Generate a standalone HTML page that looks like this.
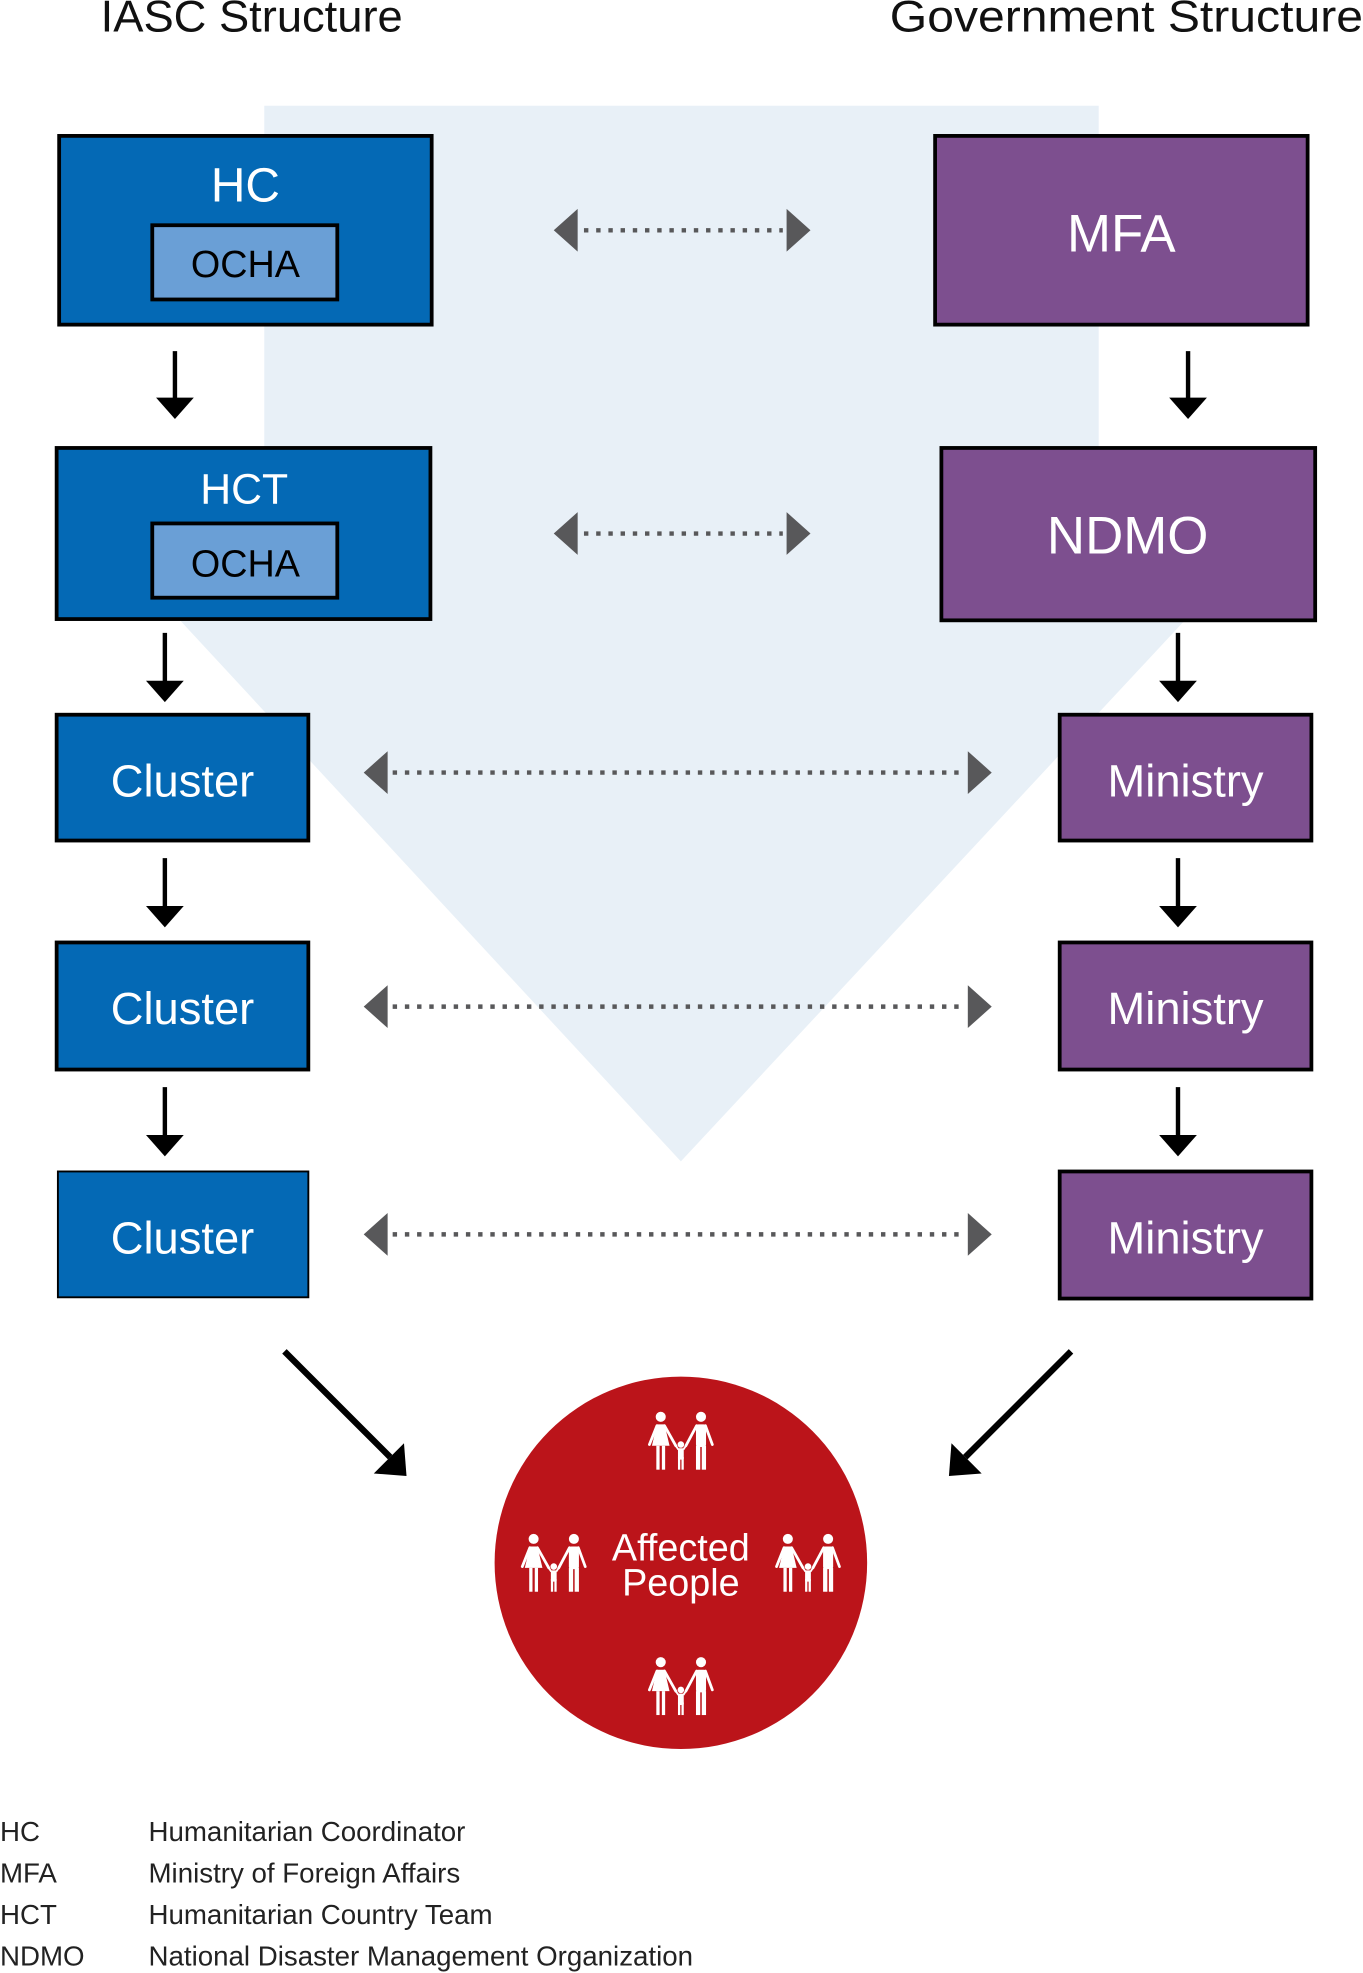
<!DOCTYPE html>
<html><head><meta charset="utf-8"><style>
html,body{margin:0;padding:0;background:#fff}
svg{display:block}
text{font-family:"Liberation Sans",sans-serif}
</style></head><body>
<svg width="1363" height="1973" viewBox="0 0 1083 1568" preserveAspectRatio="none" xmlns="http://www.w3.org/2000/svg">
<defs>
<g id="fam" fill="#fff" stroke="none">
  <circle cx="-16" cy="-19" r="4"/>
  <polygon points="-19,-13 -13,-13 -9,4 -23,4"/>
  <rect x="-19.5" y="4" width="2.6" height="19"/>
  <rect x="-15.1" y="4" width="2.6" height="19"/>
  <line x1="-19" y1="-12" x2="-25" y2="3" stroke="#fff" stroke-width="2.2" stroke-linecap="round"/>
  <line x1="-13" y1="-12" x2="-4" y2="4" stroke="#fff" stroke-width="2.2" stroke-linecap="round"/>
  <circle cx="16" cy="-19" r="4"/>
  <rect x="12" y="-13" width="8" height="18" rx="2"/>
  <rect x="12" y="4" width="3.4" height="19"/>
  <rect x="16.6" y="4" width="3.4" height="19"/>
  <line x1="12.5" y1="-12" x2="4" y2="4" stroke="#fff" stroke-width="2.2" stroke-linecap="round"/>
  <line x1="19.5" y1="-12" x2="25" y2="3" stroke="#fff" stroke-width="2.2" stroke-linecap="round"/>
  <circle cx="0" cy="3" r="2.6"/>
  <rect x="-2.3" y="6" width="4.6" height="9" rx="1"/>
  <rect x="-2.3" y="13" width="1.8" height="10"/>
  <rect x="0.5" y="13" width="1.8" height="10"/>
  <line x1="-2" y1="7" x2="-4" y2="4" stroke="#fff" stroke-width="1.5"/>
  <line x1="2" y1="7" x2="4" y2="4" stroke="#fff" stroke-width="1.5"/>
</g>
</defs>

<polygon points="210,84 873,84 873,400 1028,400 541,923 57,400 210,400" fill="#e8f0f7"/>

<text x="80" y="25" font-size="35" textLength="240" lengthAdjust="spacingAndGlyphs" fill="#111">IASC Structure</text>
<text x="707" y="25" font-size="35" textLength="376" lengthAdjust="spacingAndGlyphs" fill="#111">Government Structure</text>

<g stroke="#000" stroke-width="3">
<rect x="47" y="108" width="296" height="150" fill="#0469b5"/>
<rect x="121" y="179" width="147" height="59" fill="#6a9fd6"/>
<rect x="45" y="356" width="297" height="136" fill="#0469b5"/>
<rect x="121" y="416" width="147" height="59" fill="#6a9fd6"/>
<rect x="45" y="568" width="200" height="100" fill="#0469b5"/>
<rect x="45" y="749" width="200" height="101" fill="#0469b5"/>
<rect x="46" y="931" width="199" height="100" fill="#0469b5" stroke-width="1.5"/>
<rect x="743" y="108" width="296" height="150" fill="#7d4f8f"/>
<rect x="748" y="356" width="297" height="137" fill="#7d4f8f"/>
<rect x="842" y="568" width="200" height="100" fill="#7d4f8f"/>
<rect x="842" y="749" width="200" height="101" fill="#7d4f8f"/>
<rect x="842" y="931" width="200" height="101" fill="#7d4f8f"/>
</g>
<g fill="#fff" text-anchor="middle">
<text x="195" y="160" font-size="38">HC</text>
<text x="194" y="400" font-size="34">HCT</text>
<text x="145" y="633" font-size="36">Cluster</text>
<text x="145" y="814" font-size="36">Cluster</text>
<text x="145" y="996" font-size="36">Cluster</text>
<text x="891" y="200" font-size="42">MFA</text>
<text x="896" y="440" font-size="42">NDMO</text>
<text x="942" y="633" font-size="36">Ministry</text>
<text x="942" y="814" font-size="36">Ministry</text>
<text x="942" y="996" font-size="36">Ministry</text>
</g>
<g fill="#000" text-anchor="middle" font-size="30">
<text x="195" y="220">OCHA</text>
<text x="195" y="458">OCHA</text>
</g>

<g stroke="#000" stroke-width="3.5">
<line x1="139" y1="279" x2="139" y2="320"/>
<line x1="131" y1="503" x2="131" y2="545"/>
<line x1="131" y1="682" x2="131" y2="724"/>
<line x1="131" y1="864" x2="131" y2="906"/>
<line x1="944" y1="279" x2="944" y2="320"/>
<line x1="936" y1="503" x2="936" y2="545"/>
<line x1="936" y1="682" x2="936" y2="724"/>
<line x1="936" y1="864" x2="936" y2="906"/>
</g>
<g fill="#000">
<polygon points="124,316 154,316 139,333"/>
<polygon points="116,541 146,541 131,558"/>
<polygon points="116,720 146,720 131,737"/>
<polygon points="116,902 146,902 131,919"/>
<polygon points="929,316 959,316 944,333"/>
<polygon points="921,541 951,541 936,558"/>
<polygon points="921,720 951,720 936,737"/>
<polygon points="921,902 951,902 936,919"/>
</g>

<g stroke="#58585a" stroke-width="3.5" stroke-dasharray="3.5 6.2" stroke-linecap="butt">
<line x1="464" y1="183" x2="622" y2="183"/>
<line x1="464" y1="424" x2="622" y2="424"/>
<line x1="312" y1="614" x2="766" y2="614"/>
<line x1="312" y1="800" x2="766" y2="800"/>
<line x1="312" y1="981" x2="766" y2="981"/>
</g>
<g fill="#58585a">
<polygon points="440,183 459,166 459,200"/>
<polygon points="644,183 625,166 625,200"/>
<polygon points="440,424 459,407 459,441"/>
<polygon points="644,424 625,407 625,441"/>
<polygon points="289,614 308,597 308,631"/>
<polygon points="788,614 769,597 769,631"/>
<polygon points="289,800 308,783 308,817"/>
<polygon points="788,800 769,783 769,817"/>
<polygon points="289,981 308,964 308,998"/>
<polygon points="788,981 769,964 769,998"/>
</g>

<g stroke="#000" stroke-width="5">
<line x1="226" y1="1074" x2="310" y2="1158"/>
<line x1="851" y1="1074" x2="767" y2="1158"/>
</g>
<polygon points="323,1173 297,1171 321,1147" fill="#000"/>
<polygon points="754,1173 756,1147 780,1171" fill="#000"/>

<circle cx="541" cy="1242" r="148" fill="#bb141a"/>
<text x="541" y="1240" font-size="30" fill="#fff" text-anchor="middle">Affected</text>
<text x="541" y="1268" font-size="30" fill="#fff" text-anchor="middle">People</text>
<use href="#fam" x="541" y="1145"/>
<use href="#fam" x="440" y="1242"/>
<use href="#fam" x="642" y="1242"/>
<use href="#fam" x="541" y="1340"/>

<g font-size="22" fill="#222">
<text x="0" y="1463">HC</text><text x="118" y="1463">Humanitarian Coordinator</text>
<text x="0" y="1496">MFA</text><text x="118" y="1496">Ministry of Foreign Affairs</text>
<text x="0" y="1529">HCT</text><text x="118" y="1529">Humanitarian Country Team</text>
<text x="0" y="1562">NDMO</text><text x="118" y="1562">National Disaster Management Organization</text>
</g>
</svg>
</body></html>
